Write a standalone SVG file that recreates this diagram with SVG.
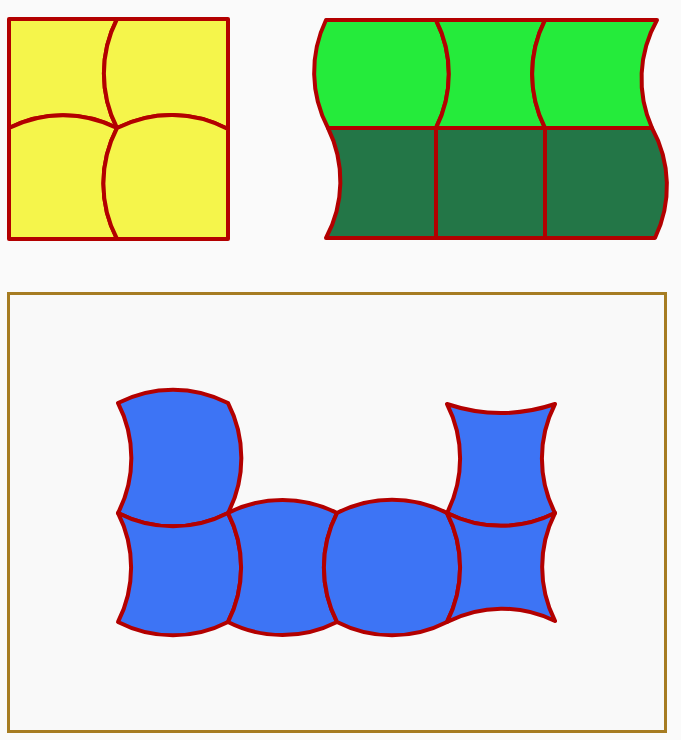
<svg xmlns="http://www.w3.org/2000/svg" width="681" height="740" viewBox="0 0 681 740">
<style>
.t{stroke:#b30000;stroke-width:4;stroke-linejoin:round}
.y{fill:#f5f54b}
.g1{fill:#25eb3b}
.g2{fill:#237647}
.b{fill:#3d74f5}
</style>
<rect x="0" y="0" width="681" height="740" fill="#fafafa"/>
<g id="yellow">
<path class="t y" d="M9,19 L117,19 A120,120 0 0 0 117,128 A120,120 0 0 0 9,128 Z"/>
<path class="t y" d="M117,19 L228,19 L228,129 A120,120 0 0 0 117,128 A120,120 0 0 1 117,19 Z"/>
<path class="t y" d="M9,128 A120,120 0 0 1 117,128 A120,120 0 0 0 117,239 L9,239 Z"/>
<path class="t y" d="M117,128 A120,120 0 0 1 228,129 L228,239 L117,239 A120,120 0 0 1 117,128 Z"/>
</g>
<g id="green">
<path class="t g1" d="M326,20 L436,20 A120,120 0 0 1 436,128 L328,128 A120,120 0 0 1 326,20 Z"/>
<path class="t g1" d="M436,20 L545,20 A120,120 0 0 0 545,128 L436,128 A120,120 0 0 0 436,20 Z"/>
<path class="t g1" d="M545,20 L657,20 A120,120 0 0 0 652,128 L545,128 A120,120 0 0 1 545,20 Z"/>
<path class="t g2" d="M328,128 L436,128 L436,238 L326,238 A120,120 0 0 0 328,128 Z"/>
<path class="t g2" d="M436,128 L545,128 L545,238 L436,238 Z"/>
<path class="t g2" d="M545,128 L652,128 A120,120 0 0 1 655,238 L545,238 Z"/>
</g>
<g id="frame">
<rect x="8.5" y="293.5" width="657" height="438" fill="#f9f9f9" stroke="#a67c22" stroke-width="3"/>
</g>
<g id="blue">
<path id="tileA" class="t b" d="M118,403 A120,120 0 0 1 228,403 A120,120 0 0 1 228,513 A120,120 0 0 1 118,513 A120,120 0 0 0 118,403 Z"/>
<path id="tileB" class="t b" d="M118,513 A120,120 0 0 0 228,513 A120,120 0 0 1 228,622 A120,120 0 0 1 118,622 A120,120 0 0 0 118,513 Z"/>
<path id="tileC" class="t b" d="M228,513 A120,120 0 0 1 337,513 A120,120 0 0 0 337,622 A120,120 0 0 1 228,622 A120,120 0 0 0 228,513 Z"/>
<path id="tileD" class="t b" d="M337,513 A120,120 0 0 1 447,513 A120,120 0 0 1 447,622 A120,120 0 0 1 337,622 A120,120 0 0 1 337,513 Z"/>
<path id="tileE" class="t b" d="M447,404 A170,170 0 0 0 555,404 A120,120 0 0 0 555,513 A120,120 0 0 1 447,513 A120,120 0 0 0 447,404 Z"/>
<path id="tileF" class="t b" d="M447,513 A120,120 0 0 0 555,513 A120,120 0 0 0 555,621 A120,120 0 0 0 447,622 A120,120 0 0 0 447,513 Z"/>
</g>
</svg>
